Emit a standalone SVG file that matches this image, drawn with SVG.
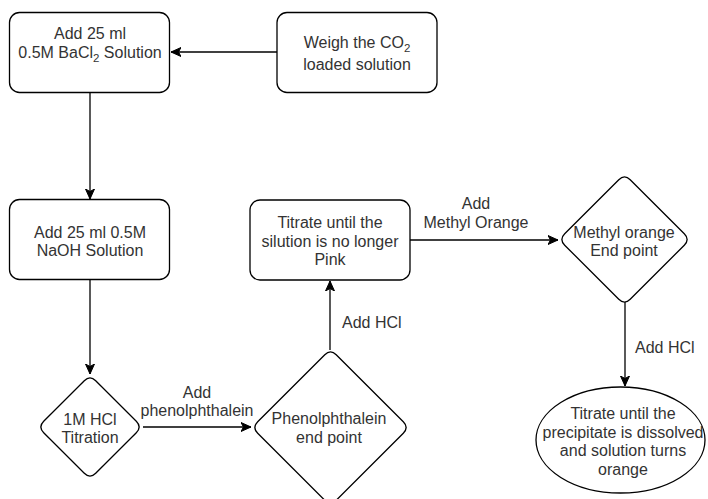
<svg xmlns="http://www.w3.org/2000/svg" width="708" height="499" viewBox="0 0 708 499">
<defs>
<marker id="arr" markerUnits="userSpaceOnUse" markerWidth="12" markerHeight="10" refX="10" refY="5" orient="auto">
<path d="M0,0.5 L10,5 L0,9.5 L2.5,5 Z" fill="#000" stroke="#000" stroke-width="1"/>
</marker>
<style>
.shape{fill:#fff;stroke:#000;stroke-width:1.3}
.edge{fill:none;stroke:#000;stroke-width:1.3}
text{font-family:"Liberation Sans",Arial,sans-serif;font-size:16px;fill:#333;text-anchor:middle}
.st{text-anchor:start}
</style>
</defs>
<rect width="708" height="499" fill="#fff"/>

<g id="edges">
<path class="edge" d="M277,52 L171,52" marker-end="url(#arr)"/>
<path class="edge" d="M90,92 L90,199" marker-end="url(#arr)"/>
<path class="edge" d="M90,280 L90,374" marker-end="url(#arr)"/>
<path class="edge" d="M143,427 L251,427" marker-end="url(#arr)"/>
<path class="edge" d="M330,350 L330,281" marker-end="url(#arr)"/>
<path class="edge" d="M410,240 L558,240" marker-end="url(#arr)"/>
<path class="edge" d="M625,302 L625,386" marker-end="url(#arr)"/>
<text x="197" y="397.5">Add</text>
<text x="197" y="415.5">phenolphthalein</text>
<text class="st" x="342" y="327.5">Add HCl</text>
<text x="476" y="208.5">Add</text>
<text x="476" y="227.5">Methyl Orange</text>
<text class="st" x="635" y="352.5">Add HCl</text>
</g>

<g id="node-bacl2">
<rect class="shape" x="9.5" y="12.5" width="160" height="80" rx="10"/>
<text x="90" y="38.5">Add 25 ml</text>
<text x="90" y="57.5">0.5M BaCl<tspan font-size="11.5" dy="4">2</tspan><tspan dy="-4"> Solution</tspan></text>
</g>

<g id="node-weigh">
<rect class="shape" x="277" y="12.5" width="160" height="80" rx="10"/>
<text x="357" y="48">Weigh the CO<tspan font-size="11.5" dy="4">2</tspan></text>
<text x="357" y="70">loaded solution</text>
</g>

<g id="node-naoh">
<rect class="shape" x="9.5" y="199.5" width="160" height="80" rx="10"/>
<text x="90" y="237.5">Add 25 ml 0.5M</text>
<text x="90" y="255.5">NaOH Solution</text>
</g>

<g id="node-hcl">
<path class="shape" d="M84.3,380.7 Q90,375 95.7,380.7 L136.3,421.3 Q142,427 136.3,432.7 L95.7,473.3 Q90,479 84.3,473.3 L43.7,432.7 Q38,427 43.7,421.3 Z"/>
<text x="90" y="424.5">1M HCl</text>
<text x="90" y="442.5">Titration</text>
</g>

<g id="node-phenol-end">
<path class="shape" d="M324.8,354.7 Q330.5,349 336.2,354.7 L403.3,421.8 Q409,427.5 403.3,433.2 L336.2,500.3 Q330.5,506 324.8,500.3 L257.7,433.2 Q252,427.5 257.7,421.8 Z"/>
<text x="329" y="423.5">Phenolphthalein</text>
<text x="329" y="442.5">end point</text>
</g>

<g id="node-titrate-pink">
<rect class="shape" x="250" y="200" width="160" height="80" rx="10"/>
<text x="330" y="227.5">Titrate until the</text>
<text x="330" y="246.5">silution is no longer</text>
<text x="330" y="264.5">Pink</text>
</g>

<g id="node-methyl-end">
<path class="shape" d="M618.8,179.7 Q624.5,174 630.2,179.7 L684.3,233.8 Q690,239.5 684.3,245.2 L630.2,299.3 Q624.5,305 618.8,299.3 L564.7,245.2 Q559,239.5 564.7,233.8 Z"/>
<text x="624" y="237.5">Methyl orange</text>
<text x="624" y="255.5">End point</text>
</g>

<g id="node-titrate-orange">
<ellipse class="shape" cx="620.5" cy="440" rx="84.5" ry="53"/>
<text x="623" y="418.5">Titrate until the</text>
<text x="623" y="437.5">precipitate is dissolved</text>
<text x="623" y="455.5">and solution turns</text>
<text x="623" y="474.5">orange</text>
</g>
</svg>
